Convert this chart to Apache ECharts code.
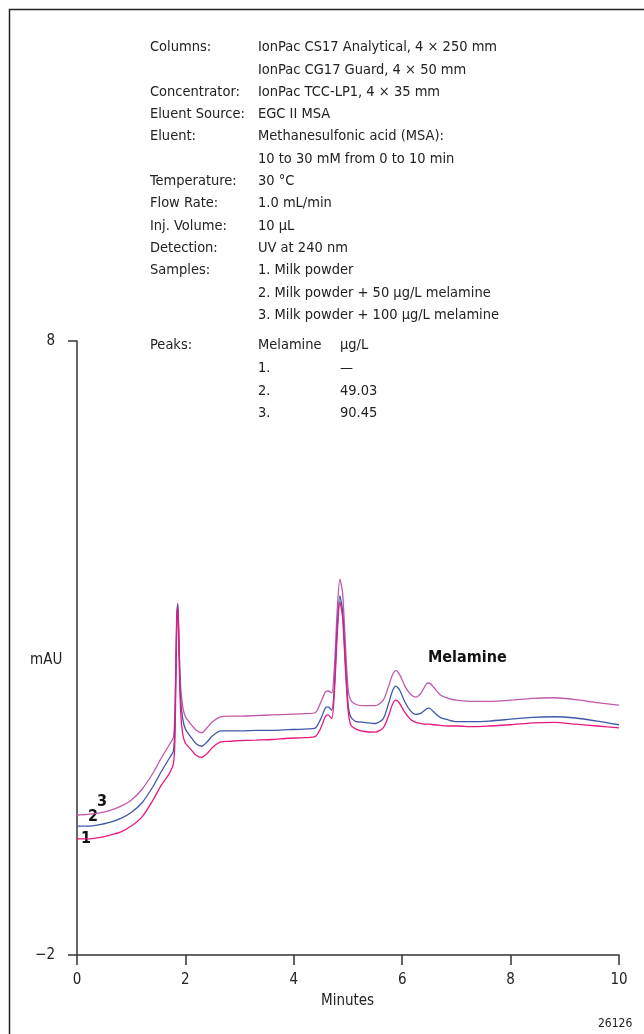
<!DOCTYPE html>
<html>
<head>
<meta charset="utf-8">
<script src="https://cdn.jsdelivr.net/npm/echarts@6/dist/echarts.min.js"></script>
<style>
  html, body { margin: 0; padding: 0; background: #fff; }
  #chart { width: 644px; height: 1034px; }
</style>
</head>
<body>
<div id="chart"></div>
<script>
// retention time, minutes
var minutes = [0, 0.2, 0.4, 0.6, 0.8, 1.0, 1.2, 1.4, 1.55, 1.7, 1.78, 1.81, 1.84, 1.86, 1.88, 1.91, 1.95, 2.0,
  2.1, 2.2, 2.3, 2.4, 2.5, 2.65, 2.8, 3.0, 3.3, 3.6, 3.9, 4.2, 4.4, 4.5, 4.58, 4.63, 4.7, 4.75, 4.8, 4.85,
  4.9, 4.95, 5.0, 5.05, 5.15, 5.3, 5.5, 5.65, 5.75, 5.82, 5.88, 5.95, 6.05, 6.15, 6.25, 6.35, 6.45, 6.5,
  6.58, 6.7, 6.85, 7.0, 7.3, 7.6, 8.0, 8.4, 8.8, 9.2, 9.6, 10];

// 1. milk powder
var sample1 = [-0.11, -0.11, -0.09, -0.05, 0.0, 0.10, 0.25, 0.52, 0.76, 0.95, 1.12, 1.6, 3.4, 3.65, 3.0, 2.0, 1.6, 1.45,
  1.35, 1.25, 1.22, 1.28, 1.38, 1.47, 1.48, 1.49, 1.50, 1.51, 1.53, 1.54, 1.56, 1.7, 1.88, 1.91, 1.85, 2.3, 3.2, 3.75,
  3.5, 2.7, 2.0, 1.75, 1.68, 1.64, 1.63, 1.70, 1.90, 2.08, 2.15, 2.10, 1.95, 1.84, 1.79, 1.77, 1.76, 1.76,
  1.75, 1.74, 1.73, 1.73, 1.72, 1.73, 1.75, 1.78, 1.79, 1.76, 1.73, 1.70];

// 2. + 50 ug/L melamine
var sample2 = [0.10, 0.10, 0.12, 0.16, 0.22, 0.32, 0.48, 0.74, 0.98, 1.2, 1.33, 1.9, 3.5, 3.70, 3.1, 2.2, 1.85, 1.68,
  1.55, 1.44, 1.40, 1.47, 1.57, 1.65, 1.65, 1.65, 1.66, 1.66, 1.67, 1.68, 1.70, 1.85, 2.02, 2.04, 1.99, 2.4, 3.3, 3.85,
  3.6, 2.8, 2.1, 1.88, 1.80, 1.79, 1.77, 1.85, 2.1, 2.3, 2.38, 2.32, 2.12, 1.98, 1.92, 1.94, 2.01, 2.02,
  1.96, 1.87, 1.83, 1.80, 1.80, 1.81, 1.84, 1.87, 1.88, 1.86, 1.81, 1.75];

// 3. + 100 ug/L melamine
var sample3 = [0.28, 0.29, 0.31, 0.35, 0.42, 0.52, 0.70, 0.96, 1.2, 1.42, 1.55, 2.1, 3.55, 3.73, 3.2, 2.4, 2.05, 1.88,
  1.76, 1.66, 1.62, 1.70, 1.80, 1.88, 1.89, 1.89, 1.90, 1.91, 1.92, 1.93, 1.95, 2.12, 2.28, 2.30, 2.27, 2.7, 3.6, 4.12,
  3.9, 3.1, 2.35, 2.15, 2.08, 2.06, 2.06, 2.15, 2.38, 2.56, 2.63, 2.57, 2.38, 2.25, 2.20, 2.27, 2.42, 2.43,
  2.36, 2.24, 2.18, 2.15, 2.13, 2.13, 2.15, 2.18, 2.19, 2.16, 2.11, 2.07];

var xTicks = [0, 2, 4, 6, 8, 10];
var yTicks = [-2, 8];

var conditions = [
  ['Columns:', 'IonPac CS17 Analytical, 4 \u00d7 250 mm'],
  ['', 'IonPac CG17 Guard, 4 \u00d7 50 mm'],
  ['Concentrator:', 'IonPac TCC-LP1, 4 \u00d7 35 mm'],
  ['Eluent Source:', 'EGC II MSA'],
  ['Eluent:', 'Methanesulfonic acid (MSA):'],
  ['', '10 to 30 mM from 0 to 10 min'],
  ['Temperature:', '30 \u00b0C'],
  ['Flow Rate:', '1.0 mL/min'],
  ['Inj. Volume:', '10 \u00b5L'],
  ['Detection:', 'UV at 240 nm'],
  ['Samples:', '1. Milk powder'],
  ['', '2. Milk powder + 50 \u00b5g/L melamine'],
  ['', '3. Milk powder + 100 \u00b5g/L melamine']
];
var peakRows = [
  ['Peaks:', 'Melamine', '\u00b5g/L'],
  ['', '1.', '\u2014'],
  ['', '2.', '49.03'],
  ['', '3.', '90.45']
];

function pairs(ys) {
  return minutes.map(function (t, i) { return [t, ys[i]]; });
}

var font = '"Liberation Sans Narrow", "DejaVu Sans Condensed", "Roboto", sans-serif';
var textColor = '#222';

var graphics = [
  { type: 'rect', shape: { x: 9.5, y: 9.5, width: 700, height: 1100 },
    style: { fill: 'none', stroke: '#222', lineWidth: 1.5 }, silent: true }
];
conditions.forEach(function (row, i) {
  var y = 47 + i * 22.3;
  graphics.push({ type: 'text', left: 150, top: y - 7, style: { text: row[0], font: '14.5px ' + font, fill: textColor } });
  graphics.push({ type: 'text', left: 258, top: y - 7, style: { text: row[1], font: '14.5px ' + font, fill: textColor } });
});
peakRows.forEach(function (row, i) {
  var y = 345 + i * 22.7;
  graphics.push({ type: 'text', left: 150, top: y - 7, style: { text: row[0], font: '14.5px ' + font, fill: textColor } });
  graphics.push({ type: 'text', left: 258, top: y - 7, style: { text: row[1], font: '14.5px ' + font, fill: textColor } });
  graphics.push({ type: 'text', left: 340, top: y - 7, style: { text: row[2], font: '14.5px ' + font, fill: textColor } });
});
graphics.push({ type: 'text', left: 30, top: 653, style: { text: 'mAU', font: '15px ' + font, fill: textColor } });
graphics.push({ type: 'text', left: 428, top: 650, style: { text: 'Melamine', font: 'bold 16px ' + font, fill: '#111' } });
graphics.push({ type: 'text', left: 97, top: 794, style: { text: '3', font: 'bold 16px ' + font, fill: '#111' } });
graphics.push({ type: 'text', left: 88, top: 809, style: { text: '2', font: 'bold 16px ' + font, fill: '#111' } });
graphics.push({ type: 'text', left: 81, top: 831, style: { text: '1', font: 'bold 16px ' + font, fill: '#111' } });
graphics.push({ type: 'text', left: 321, top: 994, style: { text: 'Minutes', font: '15px ' + font, fill: textColor } });
graphics.push({ type: 'text', left: 598, top: 1018, style: { text: '26126', font: '12px ' + font, fill: textColor } });

var chart = echarts.init(document.getElementById('chart'));
var option = {
  animation: false,
  backgroundColor: '#fff',
  grid: { left: 77, right: 25, top: 341, bottom: 79 },
  xAxis: {
    type: 'value',
    min: 0, max: 10, interval: 2,
    axisLine: { onZero: false, lineStyle: { color: '#333', width: 1.5 } },
    axisTick: { show: true, length: 10, lineStyle: { color: '#333', width: 1.5 } },
    axisLabel: { color: textColor, fontSize: 15, fontFamily: font, margin: 18,
      customValues: xTicks },
    splitLine: { show: false }
  },
  yAxis: {
    type: 'value',
    min: -2, max: 8,
    axisLine: { show: true, onZero: false, lineStyle: { color: '#333', width: 1.5 } },
    axisTick: { show: true, length: 9, customValues: yTicks, lineStyle: { color: '#333', width: 1.5 } },
    axisLabel: { color: textColor, fontSize: 15, fontFamily: font, margin: 22,
      customValues: yTicks,
      formatter: function (v) { return v < 0 ? '\u2212' + Math.abs(v) : String(v); } },
    splitLine: { show: false }
  },
  graphic: graphics,
  series: [
    { name: '1', type: 'line', data: pairs(sample1), showSymbol: false, smooth: 0.25,
      lineStyle: { color: '#e8197c', width: 1.3 }, z: 3 },
    { name: '2', type: 'line', data: pairs(sample2), showSymbol: false, smooth: 0.25,
      lineStyle: { color: '#3d58ab', width: 1.3 }, z: 2 },
    { name: '3', type: 'line', data: pairs(sample3), showSymbol: false, smooth: 0.25,
      lineStyle: { color: '#c258a8', width: 1.3 }, z: 1 }
  ]
};
option && chart.setOption(option);
</script>
</body>
</html>
